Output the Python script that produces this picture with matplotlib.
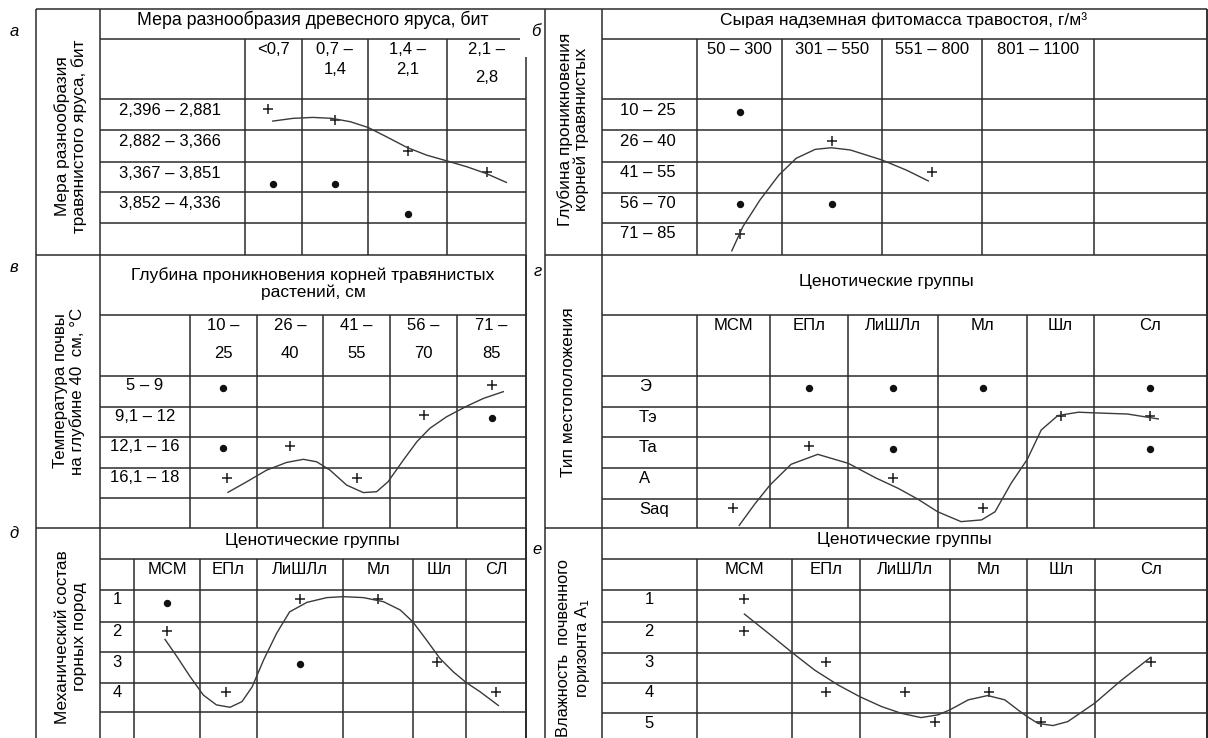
import matplotlib.pyplot as plt
import numpy as np
from matplotlib import font_manager

fonts = {f.name for f in font_manager.fontManager.ttflist}
REG = 'Liberation Sans' if 'Liberation Sans' in fonts else 'DejaVu Sans'
NAR = 'Liberation Sans Narrow' if 'Liberation Sans Narrow' in fonts else REG
plt.rcParams['font.family'] = [REG, 'DejaVu Sans']

# ---------- а ----------
a_title = 'Мера разнообразия древесного яруса, бит'
a_ylabel = 'Мера разнообразия\nтравянистого яруса, бит'
a_col1 = ['<0,7', '0,7 –', '1,4 –', '2,1 –']
a_col2 = ['', '1,4', '2,1', '2,8']
a_rows = ['2,396 – 2,881', '2,882 – 3,366', '3,367 – 3,851', '3,852 – 4,336']
a_plus_x = [0.41, 1.5, 2.5, 3.5]
a_plus_y = [0.33, 0.67, 1.64, 2.31]
a_dot_x = [0.5, 1.5, 2.5]
a_dot_y = [2.73, 2.73, 3.72]
a_curve_x = [0.49, 0.85, 1.17, 1.45, 1.73, 2.0, 2.23, 2.49, 2.74, 3.0, 3.25, 3.49, 3.75]
a_curve_y = [0.71, 0.62, 0.59, 0.62, 0.73, 0.92, 1.21, 1.54, 1.78, 1.96, 2.15, 2.37, 2.67]

# ---------- б ----------
b_title = 'Сырая надземная фитомасса травостоя, г/м³'
b_ylabel = 'Глубина проникновения\nкорней травянистых'
b_col1 = ['50 – 300', '301 – 550', '551 – 800', '801 – 1100', '']
b_col2 = ['', '', '', '', '']
b_rows = ['10 – 25', '26 – 40', '41 – 55', '56 – 70', '71 – 85']
b_plus_x = [1.5, 2.5, 0.5]
b_plus_y = [1.34, 2.32, 4.36]
b_dot_x = [0.5, 0.5, 1.5]
b_dot_y = [0.40, 3.39, 3.39]
b_curve_x = [0.41, 0.54, 0.74, 0.96, 1.14, 1.33, 1.49, 1.68, 2.0, 2.24, 2.46]
b_curve_y = [4.87, 4.12, 3.24, 2.43, 1.89, 1.61, 1.56, 1.63, 1.95, 2.27, 2.62]

# ---------- в ----------
v_title = 'Глубина проникновения корней травянистых\nрастений, см'
v_ylabel = 'Температура почвы\nна глубине 40  см, °С'
v_col1 = ['10 –', '26 –', '41 –', '56 –', '71 –']
v_col2 = ['25', '40', '55', '70', '85']
v_rows = ['5 – 9', '9,1 – 12', '12,1 – 16', '16,1 – 18']
v_plus_x = [4.5, 3.5, 1.5, 0.55, 2.5]
v_plus_y = [0.29, 1.27, 2.28, 3.33, 3.33]
v_dot_x = [0.5, 4.5, 0.5]
v_dot_y = [0.40, 1.38, 2.35]
v_curve_x = [0.57, 0.85, 1.15, 1.45, 1.70, 1.90, 2.10, 2.35, 2.60, 2.80, 2.97,
             3.20, 3.40, 3.59, 3.84, 4.14, 4.38, 4.67]
v_curve_y = [3.80, 3.45, 3.06, 2.81, 2.71, 2.79, 3.06, 3.56, 3.81, 3.78, 3.45,
             2.73, 2.14, 1.71, 1.33, 0.98, 0.73, 0.51]

# ---------- г ----------
g_title = 'Ценотические группы'
g_ylabel = 'Тип местоположения'
g_col1 = ['МСМ', 'ЕПл', 'ЛиШЛл', 'Мл', 'Шл', 'Сл']
g_col2 = ['', '', '', '', '', '']
g_rows = ['Э', 'Тэ', 'Та', 'А', 'Saq']
g_plus_x = [4.5, 5.5, 1.5, 2.5, 0.5, 3.5]
g_plus_y = [1.29, 1.29, 2.28, 3.30, 4.31, 4.31]
g_dot_x = [1.5, 2.5, 3.5, 5.5, 2.5, 5.5]
g_dot_y = [0.38, 0.38, 0.38, 0.38, 2.38, 2.38]
g_curve_x = [0.58, 0.79, 1.0, 1.27, 1.61, 2.0, 2.30, 2.56, 2.78, 3.0, 3.26, 3.49,
             3.64, 3.82, 4.0, 4.21, 4.46, 4.77, 5.0, 5.30, 5.57]
g_curve_y = [4.90, 4.17, 3.54, 2.87, 2.55, 2.84, 3.30, 3.65, 4.0, 4.43, 4.77, 4.71,
             4.43, 3.48, 2.71, 1.76, 1.29, 1.18, 1.20, 1.24, 1.40]

# ---------- д ----------
d_title = 'Ценотические группы'
d_ylabel = 'Механический состав\nгорных пород'
d_col1 = ['МСМ', 'ЕПл', 'ЛиШЛл', 'Мл', 'Шл', 'СЛ']
d_col2 = ['', '', '', '', '', '']
d_rows = ['1', '2', '3', '4']
d_plus_x = [2.5, 3.5, 0.5, 4.45, 1.46, 5.5]
d_plus_y = [0.29, 0.29, 1.30, 2.31, 3.32, 3.32]
d_dot_x = [0.5, 2.5]
d_dot_y = [0.40, 2.39]
d_curve_x = [0.47, 0.65, 0.85, 1.06, 1.29, 1.53, 1.74, 1.92, 2.08, 2.23, 2.38, 2.58,
             2.81, 3.0, 3.29, 3.58, 3.82, 4.0, 4.26, 4.51, 4.76, 5.0, 5.23, 5.54]
d_curve_y = [1.58, 2.14, 2.80, 3.42, 3.75, 3.83, 3.64, 3.14, 2.25, 1.38, 0.69, 0.39,
             0.24, 0.21, 0.24, 0.37, 0.63, 1.0, 1.60, 2.20, 2.64, 2.99, 3.30, 3.77]

# ---------- е ----------
e_title = 'Ценотические группы'
e_ylabel = 'Влажность  почвенного\nгоризонта А$_1$'
e_col1 = ['МСМ', 'ЕПл', 'ЛиШЛл', 'Мл', 'Шл', 'Сл']
e_col2 = ['', '', '', '', '', '']
e_rows = ['1', '2', '3', '4', '5']
e_plus_x = [0.5, 0.5, 1.5, 1.5, 2.5, 3.5, 2.84, 4.21, 5.5]
e_plus_y = [0.29, 1.29, 2.30, 3.31, 3.31, 3.31, 4.29, 4.29, 2.30]
e_curve_x = [0.50, 0.75, 1.0, 1.33, 1.68, 2.0, 2.24, 2.46, 2.68, 2.87, 3.0, 3.24,
             3.49, 3.71, 3.88, 4.0, 4.16, 4.38, 4.60, 5.0, 5.24, 5.50]
e_curve_y = [0.76, 1.37, 2.0, 2.58, 3.08, 3.46, 3.78, 4.0, 4.14, 4.05, 3.89, 3.56,
             3.42, 3.56, 3.89, 4.11, 4.33, 4.40, 4.27, 3.67, 2.91, 2.15]

# ---------- layout (pixels of the 1208x738 canvas) ----------
LINE = '#2b2b2b'
W, H = 1208, 738
panels = [
    dict(letter='а', lxy=(14, 31), title=a_title, tsize=12.8, txy=(313, 20), tline=(100, 520),
         ylabel=a_ylabel, ysize=12.4, yxy=(71, 136), head=39.3, top=9.3, right=526,
         rborder_top=57,
         cols=[245, 301.7, 368.3, 447.3, 526], rows=[99.3, 130, 162.3, 192.3, 222.7, 255],
         c1=a_col1, c2=a_col2, c1y=50, c2y=[70, 70, 70, 78], cfont=REG,
         rlab=a_rows, rx=170, rha='center', rdy=11,
         plus=(a_plus_x, a_plus_y), dots=(a_dot_x, a_dot_y), curve=(a_curve_x, a_curve_y)),
    dict(letter='б', lxy=(536, 31), title=b_title, tsize=12.5, txy=(904, 20),
         tline=(601.7, 1207),
         ylabel=b_ylabel, ysize=12.4, yxy=(573, 129), head=39.3, top=9.3, right=1207,
         rborder_top=9.3,
         cols=[696.7, 782.3, 882.3, 982.3, 1094, 1207], rows=[99.3, 130, 161.7, 192.7, 222.7, 255],
         c1=b_col1, c2=b_col2, c1y=50, c2y=70, cfont=NAR,
         rlab=b_rows, rx=620, rha='left', rdy=11,
         plus=(b_plus_x, b_plus_y), dots=(b_dot_x, b_dot_y), curve=(b_curve_x, b_curve_y)),
    dict(letter='в', lxy=(14, 268), title=v_title, tsize=12.5, txy=(313, 283.5),
         tline=(100, 526),
         ylabel=v_ylabel, ysize=12.2, yxy=(69, 391), head=315, top=255, right=526,
         rborder_top=255,
         cols=[190, 256.7, 323.3, 390, 457.3, 526], rows=[376, 406.7, 437.3, 468.3, 498.3, 528.3],
         c1=v_col1, c2=v_col2, c1y=325, c2y=353.3, cfont=REG,
         rlab=v_rows, rx=145, rha='center', rdy=9.5,
         plus=(v_plus_x, v_plus_y), dots=(v_dot_x, v_dot_y), curve=(v_curve_x, v_curve_y)),
    dict(letter='г', lxy=(538, 272), title=g_title, tsize=12.5, txy=(886, 281.7),
         tline=(601.7, 1207),
         ylabel=g_ylabel, ysize=12.4, yxy=(568.3, 392), head=315, top=255, right=1207,
         rborder_top=255,
         cols=[696.7, 770, 848.3, 937.7, 1027.3, 1093.7, 1207],
         rows=[376, 406.7, 437.3, 468.3, 499.3, 528.3],
         c1=g_col1, c2=g_col2, c1y=325, c2y=345, cfont=NAR,
         rlab=g_rows, rx=639, rha='left', rdy=10.5,
         plus=(g_plus_x, g_plus_y), dots=(g_dot_x, g_dot_y), curve=(g_curve_x, g_curve_y)),
    dict(letter='д', lxy=(14, 533), title=d_title, tsize=12.5, txy=(312, 540.7),
         tline=(100, 526),
         ylabel=d_ylabel, ysize=12.4, yxy=(71, 637), head=559.3, top=528.3, right=526,
         rborder_top=528.3,
         cols=[134, 200, 256.7, 343.3, 412.7, 466, 526],
         rows=[590, 621.7, 652.3, 682.7, 712.3, 742],
         c1=d_col1, c2=d_col2, c1y=570, c2y=590, cfont=NAR,
         rlab=d_rows, rx=117, rha='center', rdy=10,
         plus=(d_plus_x, d_plus_y), dots=(d_dot_x, d_dot_y), curve=(d_curve_x, d_curve_y)),
    dict(letter='е', lxy=(537, 550), title=e_title, tsize=12.5, txy=(904, 539.5),
         tline=(601.7, 1207),
         ylabel=e_ylabel, ysize=11.8, yxy=(574, 648), head=559.3, top=528.3, right=1207,
         rborder_top=528.3,
         cols=[696.5, 792.3, 860, 949.7, 1027.3, 1094.7, 1207],
         rows=[590, 621.7, 652.7, 682.7, 713.3, 744],
         c1=e_col1, c2=e_col2, c1y=569, c2y=590, cfont=NAR,
         rlab=e_rows, rx=649, rha='center', rdy=10,
         plus=(e_plus_x, e_plus_y), dots=([], []), curve=(e_curve_x, e_curve_y)),
]

fig = plt.figure(figsize=(W / 100, H / 100), dpi=100)
ax = fig.add_axes([0, 0, 1, 1])
ax.set_xlim(0, W)
ax.set_ylim(H, 0)
ax.axis('off')


def seg(x0, x1, y0, y1, lw=1.1):
    ax.plot([x0, x1], [y0, y1], color=LINE, lw=lw, solid_capstyle='butt')


# outer frame lines shared by the panels
for x in (36, 100, 545, 601.7, 1207):
    seg(x, x, 9.3, H)
seg(36, 1207, 9.3, 9.3)
for y in (255, 528.3):
    seg(36, 526, y, y)
    seg(545, 1207, y, y)


def to_px(v, edges):
    return np.interp(v, np.arange(len(edges)), edges)


for p in panels:
    cols, rows = p['cols'], p['rows']
    left_edge = 100 if p['right'] < 600 else 601.7
    bottom = min(rows[-1], H)
    # frame of the panel
    seg(p['right'], p['right'], p['rborder_top'], H)
    seg(p['tline'][0], p['tline'][1], p['head'], p['head'])
    for y in rows[:-1]:
        seg(left_edge, p['right'], y, y)
    for x in cols[:-1]:
        seg(x, x, p['head'], bottom)

    # texts
    ax.text(*p['lxy'], p['letter'], fontsize=12, style='italic', ha='center', va='center')
    ax.text(*p['txy'], p['title'], fontsize=p['tsize'], ha='center', va='center',
            linespacing=1.1)
    ax.text(*p['yxy'], p['ylabel'], fontsize=p['ysize'], rotation=90, ha='center',
            va='center', multialignment='center', linespacing=1.1)
    centers = [(cols[i] + cols[i + 1]) / 2 for i in range(len(cols) - 1)]
    c2y = np.broadcast_to(p['c2y'], (len(centers),))
    for cx, t1, t2, y2 in zip(centers, p['c1'], p['c2'], c2y):
        ax.text(cx, p['c1y'], t1, fontsize=12, ha='center', va='center',
                family=[p['cfont'], 'DejaVu Sans'])
        if t2:
            ax.text(cx, y2, t2, fontsize=12, ha='center', va='center',
                    family=[p['cfont'], 'DejaVu Sans'])
    for i, lab in enumerate(p['rlab']):
        ax.text(p['rx'], rows[i] + p['rdy'], lab, fontsize=12, ha=p['rha'], va='center')

    # marks
    px, py = p['plus']
    ax.plot(to_px(np.array(px), cols), to_px(np.array(py), rows), ls='none',
            marker='+', ms=6.5, mew=1.1, color='#1a1a1a')
    dx, dy = p['dots']
    if len(dx):
        ax.plot(to_px(np.array(dx), cols), to_px(np.array(dy), rows), ls='none',
                marker='o', ms=4.3, color='#111111')
    cx, cy = p['curve']
    ax.plot(to_px(np.array(cx), cols), to_px(np.array(cy), rows), color='#3a3a3a',
            lw=1.0, solid_joinstyle='round')

fig.savefig('out.png', dpi=100)
